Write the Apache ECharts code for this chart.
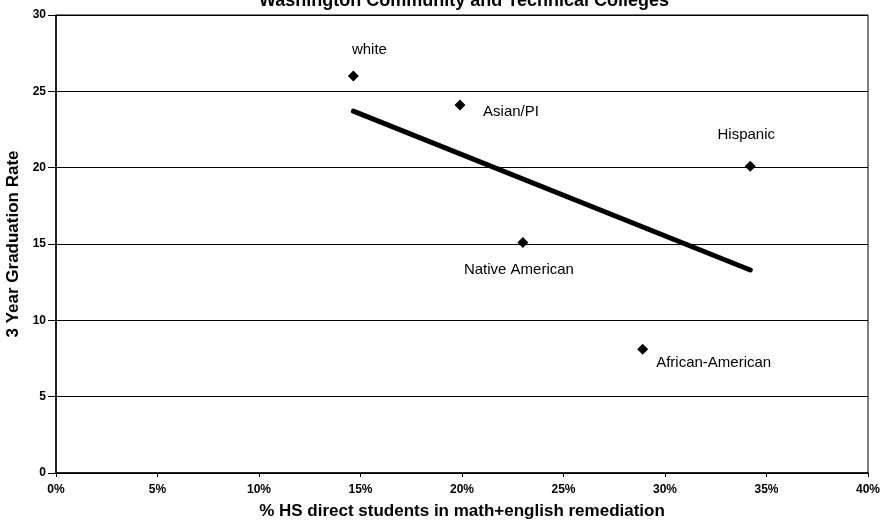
<!DOCTYPE html>
<html>
<head>
<meta charset="utf-8">
<script src="https://cdn.jsdelivr.net/npm/echarts@6/dist/echarts.min.js"></script>
<style>
  html, body { margin: 0; padding: 0; background: #fff; }
  #chart { width: 881px; height: 526px; }
</style>
</head>
<body>
<div id="chart"></div>
<script>
// values
const groups = ['white', 'Asian/PI', 'Hispanic', 'Native American', 'African-American'];
const remediation = [14.65, 19.9, 34.2, 23.0, 28.9];   // % HS direct students
const gradRate = [26.0, 24.1, 20.1, 15.1, 8.1];        // 3 year graduation rate
const trendX = [14.65, 34.2];
const trendY = [23.7, 13.3];

// where each name sits around its point (px)
const labelOffsets = [[16, -26], [51, 7], [-4, -31], [-4, 27], [71, 14]];

const font = 'Liberation Sans, Arial, sans-serif';

const chart = echarts.init(document.getElementById('chart'), null, { renderer: 'canvas' });

const points = groups.map((g, i) => ({
  name: g,
  value: [remediation[i], gradRate[i]],
  label: { offset: labelOffsets[i] }
}));

chart.setOption({
  backgroundColor: '#fff',
  animation: false,
  title: {
    text: 'Washington Community and Technical Colleges',
    left: 254,
    top: -13,
    textStyle: { fontFamily: font, fontSize: 18, fontWeight: 'bold', color: '#000' }
  },
  grid: {
    left: 56, right: 13, top: 15, bottom: 53,
    outerBoundsMode: 'none',
    containLabel: false,
    show: true, borderColor: '#000', borderWidth: 1
  },
  xAxis: {
    type: 'value',
    min: 0, max: 40, interval: 5,
    name: '% HS direct students in math+english remediation',
    nameLocation: 'middle',
    nameGap: 30,
    nameTextStyle: { fontFamily: font, fontSize: 17, fontWeight: 'bold', color: '#000' },
    axisLine: { lineStyle: { color: '#000', width: 1.5 } },
    axisTick: { show: true, length: 4, lineStyle: { color: '#000' } },
    axisLabel: {
      formatter: v => v + '%',
      fontFamily: font, fontSize: 12, fontWeight: 'bold', color: '#000', margin: 11
    },
    splitLine: { show: false }
  },
  yAxis: {
    type: 'value',
    min: 0, max: 30, interval: 5,
    name: '3 Year Graduation Rate',
    nameLocation: 'middle',
    nameGap: 27,
    nameTextStyle: { fontFamily: font, fontSize: 17, fontWeight: 'bold', color: '#000' },
    axisLine: { lineStyle: { color: '#000', width: 1.5 } },
    axisTick: { show: true, length: 8, lineStyle: { color: '#000' } },
    axisLabel: { fontFamily: font, fontSize: 12, fontWeight: 'bold', color: '#000', margin: 10 },
    splitLine: { show: true, lineStyle: { color: '#000', width: 1 } }
  },
  series: [
    {
      type: 'line',
      data: trendX.map((x, i) => [x, trendY[i]]),
      symbol: 'none',
      lineStyle: { color: '#000', width: 5, cap: 'round' },
      z: 3
    },
    {
      type: 'scatter',
      data: points,
      symbol: 'diamond',
      symbolSize: 11,
      itemStyle: { color: '#000', opacity: 1 },
      label: {
        show: true,
        position: 'inside',
        align: 'center',
        verticalAlign: 'middle',
        formatter: p => p.name,
        fontFamily: font, fontSize: 15, color: '#000'
      },
      z: 4
    }
  ]
});
</script>
</body>
</html>
